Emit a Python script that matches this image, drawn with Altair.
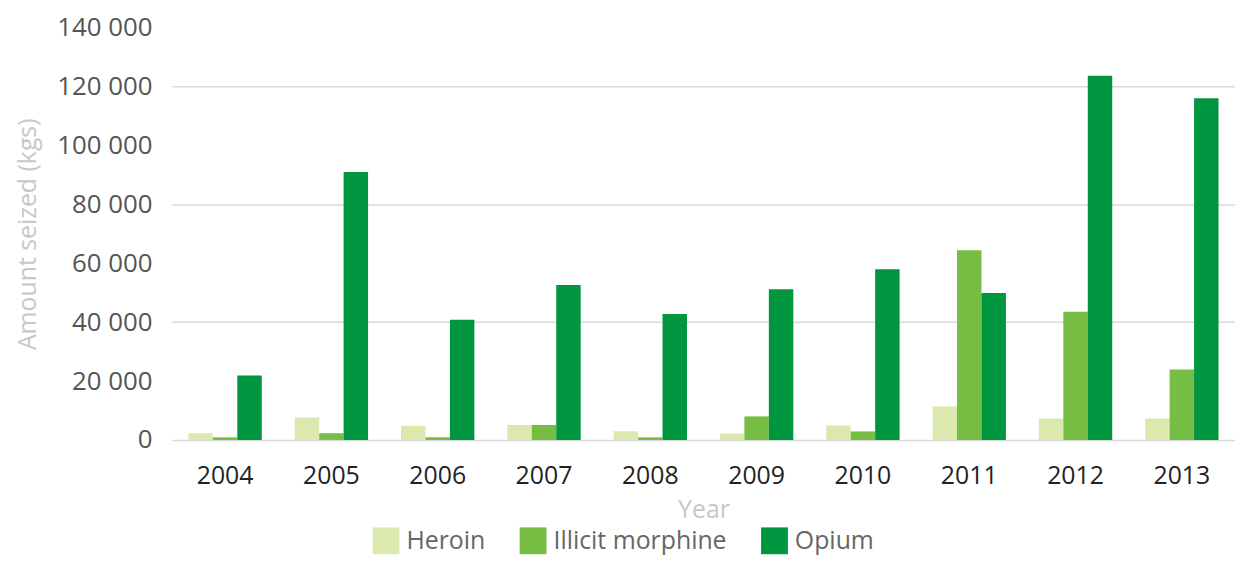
import altair as alt
import pandas as pd

years = ["2004", "2005", "2006", "2007", "2008", "2009", "2010", "2011", "2012", "2013"]
series = ["Heroin", "Illicit morphine", "Opium"]
heroin = [2300, 7600, 4800, 5100, 3000, 2200, 4900, 11400, 7300, 7300]
morphine = [900, 2300, 900, 5100, 900, 8000, 2900, 64400, 43500, 23900]
opium = [21900, 91000, 40800, 52600, 42800, 51200, 58000, 49900, 123700, 116000]
colors = ["#dce9ae", "#75be43", "#00953f"]

rows = []
for name, vals in zip(series, [heroin, morphine, opium]):
    for y, v in zip(years, vals):
        rows.append({"Year": y, "Series": name, "Value": v})
df = pd.DataFrame(rows)

FONT = "Open Sans"

chart = alt.Chart(df).mark_bar().encode(
    x=alt.X("Year:N", sort=years,
            scale=alt.Scale(paddingInner=0.31, paddingOuter=0.155),
            axis=alt.Axis(title="Year", labelAngle=0, ticks=False, domain=False,
                          labelFontSize=25, labelColor="#222222", labelPadding=24,
                          titleFontSize=25, titleColor="#c4c8cc", titleFontWeight="normal",
                          titlePadding=9, labelFont=FONT, titleFont=FONT)),
    xOffset=alt.XOffset("Series:N", sort=series),
    y=alt.Y("Value:Q", scale=alt.Scale(domain=[0, 140000], nice=False),
            axis=alt.Axis(title="Amount seized (kgs)", values=list(range(0, 140001, 20000)),
                          labelExpr="replace(format(datum.value, ','), ',', ' ')",
                          ticks=False, domain=False, grid=True,
                          gridColor=alt.condition("datum.value % 40000 === 0",
                                                  alt.value("#d9d9d9"), alt.value("transparent")),
                          gridWidth=1.5,
                          labelFontSize=26, labelColor="#555555", labelPadding=20,
                          titleFontSize=25, titleColor="#c8c8c8", titleFontWeight="normal",
                          titlePadding=16, labelFont=FONT, titleFont=FONT)),
    color=alt.Color("Series:N", sort=series,
                    scale=alt.Scale(domain=series, range=colors),
                    legend=alt.Legend(title=None, orient="none", legendX=202, legendY=503,
                                      direction="horizontal", columns=3,
                                      symbolType="square", symbolSize=729,
                                      symbolStrokeWidth=0, symbolOpacity=1,
                                      labelFontSize=25, labelColor="#666666", labelFont=FONT,
                                      labelLimit=0, labelOffset=7, columnPadding=34)),
).properties(
    width=1070, height=415,
    autosize=alt.AutoSizeParams(type="none"),
    padding={"left": 165, "top": 18, "right": 0, "bottom": 115},
).configure_view(stroke=None)

chart.save("out.html", embed_options={"renderer": "svg", "actions": False})
